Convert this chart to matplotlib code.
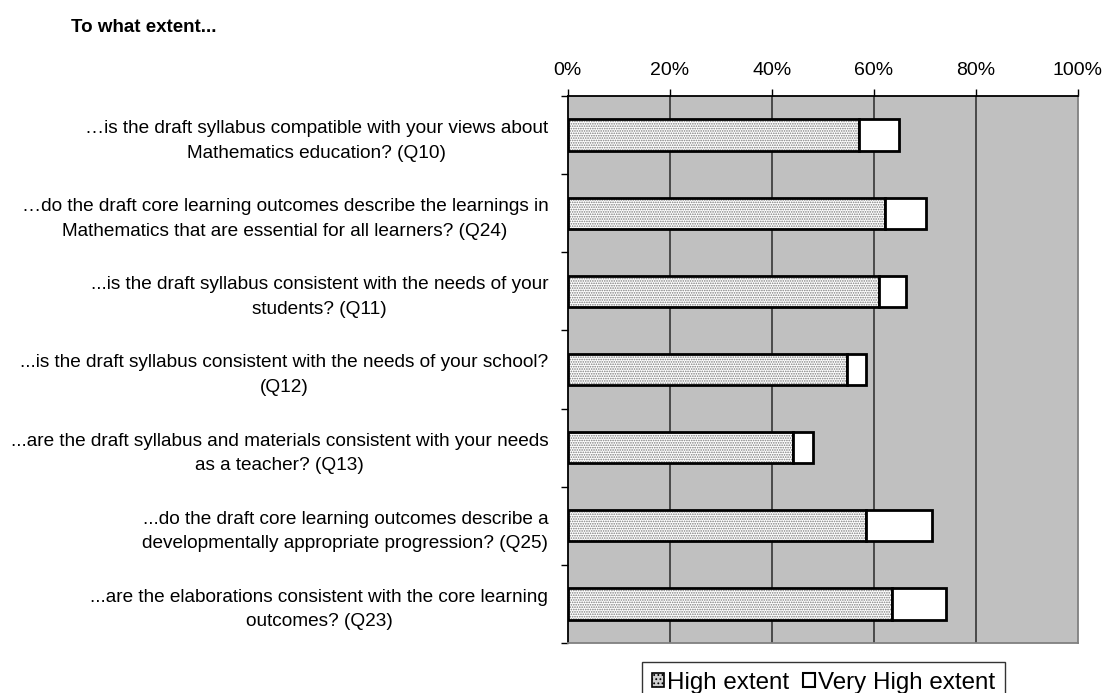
import numpy as np
import matplotlib.pyplot as plt
from matplotlib.patches import Patch

plt.rcParams['font.family'] = ['Liberation Sans', 'DejaVu Sans']
plt.rcParams['hatch.linewidth'] = 0.8

questions = [
    "\u2026is the draft syllabus compatible with your views about\nMathematics education? (Q10)",
    "\u2026do the draft core learning outcomes describe the learnings in\nMathematics that are essential for all learners? (Q24)",
    "...is the draft syllabus consistent with the needs of your\nstudents? (Q11)",
    "...is the draft syllabus consistent with the needs of your school?\n(Q12)",
    "...are the draft syllabus and materials consistent with your needs\nas a teacher? (Q13)",
    "...do the draft core learning outcomes describe a\ndevelopmentally appropriate progression? (Q25)",
    "...are the elaborations consistent with the core learning\noutcomes? (Q23)",
]
high = [57.2, 62.3, 61.1, 54.7, 44.1, 58.5, 63.7]
very_high = [7.8, 7.9, 5.2, 3.8, 4.0, 13.0, 10.5]

fig = plt.figure(figsize=(11.03, 6.93), dpi=100)
ax = fig.add_axes([0.5147, 0.0722, 0.4622, 0.7893])
ax.set_facecolor('#c0c0c0')

y = np.arange(len(questions))
h = 0.4
# dotted fill for "High extent", then black outline on top
ax.barh(y, high, height=h, color='white', edgecolor='#7a7a7a', hatch='.......', linewidth=0, zorder=3)
ax.barh(y, high, height=h, fill=False, edgecolor='black', linewidth=2, zorder=4)
ax.barh(y, very_high, left=high, height=h, color='white', edgecolor='black', linewidth=2, zorder=4)

ax.set_xlim(0, 100)
ax.set_ylim(len(questions) - 0.5, -0.5)
ax.set_xticks(np.arange(0, 101, 20))
ax.set_xticklabels([f"{v}%" for v in range(0, 101, 20)], fontsize=14)
ax.xaxis.tick_top()
ax.tick_params(axis='x', direction='out', length=5, pad=7, width=1)
for xv in range(20, 100, 20):
    ax.axvline(xv, color='#404040', linewidth=1.3, zorder=1)

ax.set_yticks(y)
ax.set_yticklabels(questions, fontsize=13.7, linespacing=1.58)
for lab in ax.get_yticklabels():
    lab.set_multialignment('center')
ax.set_yticks(np.arange(-0.5, len(questions)), minor=True)
ax.tick_params(axis='y', which='major', length=0, pad=14)
ax.tick_params(axis='y', which='minor', length=5, width=1, direction='out')

ax.spines['left'].set_color('black')
ax.spines['top'].set_color('black')
ax.spines['right'].set_color('#808080')
ax.spines['bottom'].set_color('#808080')
for s in ax.spines.values():
    s.set_linewidth(1.3)

fig.text(0.0644, 0.961, "To what extent...", fontsize=13.5, fontweight='bold', va='center')

handles = [Patch(facecolor='#d0d0d0', edgecolor='black', hatch='....', linewidth=1.2),
           Patch(facecolor='white', edgecolor='black', linewidth=1.5)]
leg = fig.legend(handles, ["High extent", "Very High extent"], loc='upper left',
                 bbox_to_anchor=(0.582, 0.0447), ncol=2, fontsize=17.4, frameon=True,
                 fancybox=False, edgecolor='black', handlelength=0.5, handleheight=0.5,
                 handletextpad=0.15, columnspacing=0.55, borderpad=0.4, borderaxespad=0)
leg.get_frame().set_linewidth(1.0)

fig.savefig('out.png', dpi=100)
